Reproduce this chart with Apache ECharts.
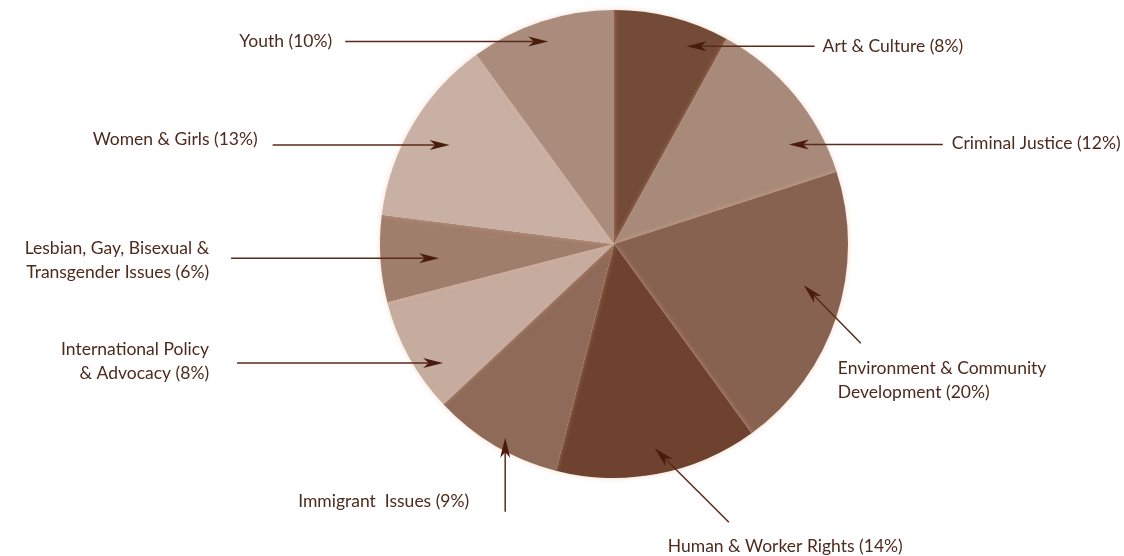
<!DOCTYPE html>
<html>
<head>
<meta charset="utf-8">
<script src="https://cdn.jsdelivr.net/npm/echarts@6/dist/echarts.min.js"></script>
<style>
html,body{margin:0;padding:0;background:#fff;}
#chart{width:1124px;height:556px;}
</style>
</head>
<body>
<div id="chart"></div>
<script>
// ---- data ----
const categories = [
  'Art & Culture',
  'Criminal Justice',
  'Environment & Community\nDevelopment',
  'Human & Worker Rights',
  'Immigrant  Issues',
  'International Policy\n& Advocacy',
  'Lesbian, Gay, Bisexual &\nTransgender Issues',
  'Women & Girls',
  'Youth'
];
const values = [8, 12, 20, 14, 9, 8, 6, 13, 10];
const colors = ['#744a38', '#a88a7a', '#886250', '#6e422e', '#8f6a58', '#c6ac9e', '#a07e6c', '#c8b0a4', '#aa8c7c'];

// ---- layout (annotation placement) ----
const CX = 614, CY = 244, R = 234;
// pos: where inside the slice (angular fraction) the arrow points, rf: radius fraction
// d: tail offset from tip, lab: label offset from tail
const annot = [
  {pos: .70, rf: .90, d: [128, 0],  lab: [8, 0, 'left', 'middle']},
  {pos: .73, rf: .86, d: [154, 0],  lab: [9, -1, 'left', 'middle']},
  {pos: .42, rf: .83, d: [57, 58],  lab: [-23, 13, 'left', 'top']},
  {pos: .49, rf: .89, d: [74, 74],  lab: [-61, 24, 'left', 'middle']},
  {pos: .46, rf: .95, d: [0, 74],   lab: [-36, -10, 'right', 'middle']},
  {pos: .29, rf: .89, d: [-206, 0], lab: [-28, -2, 'right', 'middle']},
  {pos: .45, rf: .75, d: [-208, 0], lab: [-22, 2, 'right', 'middle']},
  {pos: .51, rf: .82, d: [-177, 0], lab: [-15, -6, 'right', 'middle']},
  {pos: .50, rf: .91, d: [-203, 0], lab: [-13, 0, 'right', 'middle']}
];

const total = values.reduce((a, b) => a + b, 0);
const geo = [];
let cum = 0;
values.forEach((v, i) => {
  const a = annot[i];
  const theta = (cum + a.pos * v) / total * 2 * Math.PI;
  cum += v;
  const tip = [CX + R * a.rf * Math.sin(theta), CY - R * a.rf * Math.cos(theta)];
  const tail = [tip[0] + a.d[0], tip[1] + a.d[1]];
  geo.push({tip, tail});
});

const ARROW = '#4a1c0e';
const graphics = [];
geo.forEach(g => {
  const dx = g.tip[0] - g.tail[0], dy = g.tip[1] - g.tail[1];
  const len = Math.hypot(dx, dy);
  const ux = dx / len, uy = dy / len, nx = -uy, ny = ux;
  const L = 20, W = 5;
  const t = g.tip;
  graphics.push({
    type: 'line',
    silent: true,
    z: 100,
    shape: {x1: g.tail[0], y1: g.tail[1], x2: t[0] - 0.6 * L * ux, y2: t[1] - 0.6 * L * uy},
    style: {stroke: '#5a2a1a', lineWidth: 1.5}
  });
  graphics.push({
    type: 'polygon',
    silent: true,
    z: 101,
    shape: {points: [
      t,
      [t[0] - L * ux + W * nx, t[1] - L * uy + W * ny],
      [t[0] - 0.72 * L * ux, t[1] - 0.72 * L * uy],
      [t[0] - L * ux - W * nx, t[1] - L * uy - W * ny]
    ]},
    style: {fill: ARROW}
  });
});

const chart = echarts.init(document.getElementById('chart'));
chart.setOption({
  animation: false,
  backgroundColor: '#ffffff',
  series: [{
    type: 'pie',
    center: [CX, CY],
    radius: R,
    startAngle: 90,
    clockwise: true,
    avoidLabelOverlap: false,
    silent: true,
    data: categories.map((c, i) => ({
      name: c,
      value: values[i],
      itemStyle: {color: colors[i]}
    })),
    itemStyle: {
      borderWidth: 0,
      shadowBlur: 5,
      shadowColor: 'rgba(235,180,150,0.5)'
    },
    label: {
      show: true,
      position: 'outside',
      formatter: p => p.name + ' (' + p.value + '%)',
      color: '#4e2a1c',
      fontFamily: 'Lato',
      fontSize: 17.5,
      lineHeight: 24
    },
    labelLine: {show: false},
    labelLayout: function (params) {
      const i = params.dataIndex;
      const g = geo[i], a = annot[i];
      return {
        x: g.tail[0] + a.lab[0],
        y: g.tail[1] + a.lab[1],
        align: a.lab[2],
        verticalAlign: a.lab[3]
      };
    }
  }],
  graphic: graphics
});
</script>
</body>
</html>
